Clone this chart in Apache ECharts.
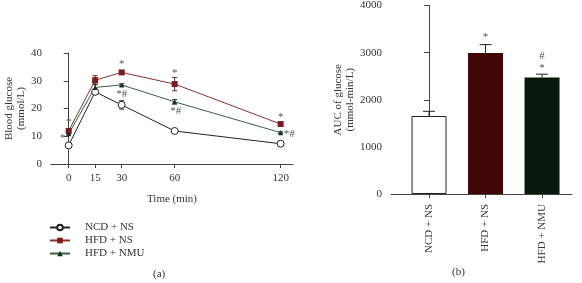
<!DOCTYPE html>
<html>
<head>
<meta charset="utf-8">
<script src="https://cdn.jsdelivr.net/npm/echarts@6/dist/echarts.min.js"></script>
<style>
html, body { margin: 0; padding: 0; background: #fff; }
#chart { width: 582px; height: 283px; }
</style>
</head>
<body>
<div id="chart"></div>
<script>
// panel (a): blood glucose over time
var times = [0, 15, 30, 60, 120];
var ncdNs = [6.7, 26.0, 21.3, 11.9, 7.3];
var ncdNsErr = [0.3, 0.6, 1.5, 0.4, 0.4];
var hfdNs = [11.9, 30.2, 33.0, 28.8, 14.4];
var hfdNsErr = [0.5, 1.6, 0.7, 2.4, 0.5];
var hfdNmu = [10.9, 27.6, 28.5, 22.4, 11.3];
var hfdNmuErr = [0.4, 1.2, 0.4, 0.8, 0.3];
var hfdNsMarks = ['*', '', '*', '*', '*'];
var hfdNmuMarks = ['*', '', '*#', '*#', '*#'];

// panel (b): AUC
var groups = ['NCD + NS', 'HFD + NS', 'HFD + NMU'];
var auc = [1655, 2990, 2473];
var aucErr = [100, 180, 70];
var aucMarks = ['', '*', '#\n*'];

var font = "'Liberation Serif', 'DejaVu Serif', serif";
var txt = '#333';
var axisCol = '#444';
var cNcd = '#222222';
var cNs = '#7a1c1c';
var cNsLine = '#8c3030';
var cNmu = '#143020';
var cNmuLine = '#3c5c4a';
var barCols = ['#ffffff', '#410707', '#07190d'];

function pairs(ys) {
    return times.map(function(t, i) { return [t, ys[i]]; });
}

function errSeries(name, ys, errs, color) {
    return {
        type: 'custom',
        name: name + ' err',
        xAxisIndex: 0,
        yAxisIndex: 0,
        z: 1,
        data: times.map(function(t, i) { return [t, ys[i] - errs[i], ys[i] + errs[i]]; }),
        renderItem: function(params, api) {
            var lo = api.coord([api.value(0), api.value(1)]);
            var hi = api.coord([api.value(0), api.value(2)]);
            var st = { stroke: color, lineWidth: 1 };
            return {
                type: 'group',
                children: [
                    { type: 'line', shape: { x1: lo[0], y1: lo[1], x2: hi[0], y2: hi[1] }, style: st },
                    { type: 'line', shape: { x1: lo[0] - 2.5, y1: lo[1], x2: lo[0] + 2.5, y2: lo[1] }, style: st },
                    { type: 'line', shape: { x1: hi[0] - 2.5, y1: hi[1], x2: hi[0] + 2.5, y2: hi[1] }, style: st }
                ]
            };
        }
    };
}

function markSeries(name, ys, marks, offsets, xi, yi) {
    return {
        type: 'custom',
        name: name,
        xAxisIndex: xi,
        yAxisIndex: yi,
        z: 5,
        silent: true,
        data: ys.map(function(v, i) { return [xi === 0 ? times[i] : i, v, i]; }),
        renderItem: function(params, api) {
            var i = api.value(2);
            var p = api.coord([api.value(0), api.value(1)]);
            var o = offsets[i];
            return {
                type: 'text',
                style: {
                    text: marks[i],
                    x: p[0] + o[0],
                    y: p[1] + o[1],
                    fill: '#555',
                    font: '11px ' + font,
                    align: o[2] || 'center',
                    verticalAlign: 'middle',
                    lineHeight: 12
                }
            };
        }
    };
}

var myChart = echarts.init(document.getElementById('chart'));
var option = {
    animation: false,
    textStyle: { fontFamily: font },
    title: [
        { text: '(a)', left: 148, top: 264, textStyle: { fontFamily: font, fontSize: 11, fontWeight: 'normal', color: txt } },
        { text: '(b)', left: 447, top: 262, textStyle: { fontFamily: font, fontSize: 11, fontWeight: 'normal', color: txt } }
    ],
    legend: {
        data: ['NCD + NS', 'HFD + NS', 'HFD + NMU'],
        orient: 'vertical',
        left: 49,
        top: 222,
        padding: 0,
        itemWidth: 20,
        itemHeight: 7,
        itemGap: 2,
        textStyle: { fontFamily: font, fontSize: 11, color: txt, padding: [0, 0, 0, 10] }
    },
    grid: [
        { left: 51, right: 289, top: 53, bottom: 119 },
        { left: 391, right: 10, top: 5, bottom: 89 }
    ],
    xAxis: [{
        gridIndex: 0,
        type: 'value',
        min: -10,
        max: 127,
        name: 'Time (min)',
        nameLocation: 'middle',
        nameGap: 30,
        nameTextStyle: { fontFamily: font, fontSize: 11, color: txt },
        splitLine: { show: false },
        axisLine: { lineStyle: { color: axisCol } },
        axisTick: { customValues: times, length: 4, lineStyle: { color: axisCol } },
        axisLabel: { customValues: times, margin: 9, fontFamily: font, fontSize: 11, color: txt }
    }, {
        gridIndex: 1,
        type: 'value',
        min: -0.673,
        max: 2.53,
        splitLine: { show: false },
        axisLine: { lineStyle: { color: axisCol } },
        axisTick: { customValues: [0, 1, 2], length: 4, lineStyle: { color: axisCol } },
        axisLabel: {
            customValues: [0, 1, 2],
            rotate: 90,
            margin: 10,
            fontFamily: font,
            fontSize: 11,
            color: txt,
            formatter: function(v) { return groups[Math.round(v)]; }
        }
    }],
    yAxis: [{
        gridIndex: 0,
        type: 'value',
        min: 0,
        max: 40,
        interval: 10,
        name: 'Blood glucose\n(mmol/L)',
        nameLocation: 'middle',
        nameRotate: 90,
        nameGap: 24,
        nameTextStyle: { fontFamily: font, fontSize: 11, color: txt, lineHeight: 12 },
        splitLine: { show: false },
        axisLine: { show: true, lineStyle: { color: axisCol } },
        axisTick: { show: true, length: 5, lineStyle: { color: axisCol } },
        axisLabel: { margin: 9, fontFamily: font, fontSize: 11, color: txt }
    }, {
        gridIndex: 1,
        type: 'value',
        min: 0,
        max: 4000,
        interval: 1000,
        name: 'AUC of glucose\n(mmol-min/L)',
        nameLocation: 'middle',
        nameRotate: 90,
        nameGap: 34,
        nameTextStyle: { fontFamily: font, fontSize: 11, color: txt, lineHeight: 12 },
        splitLine: { show: false },
        axisLine: { show: true, lineStyle: { color: axisCol } },
        axisTick: { show: true, length: 5, lineStyle: { color: axisCol } },
        axisLabel: {
            margin: 9, fontFamily: font, fontSize: 11, color: txt,
            formatter: function(v) { return String(v); }
        }
    }],
    series: [
        {
            name: 'NCD + NS', type: 'line', xAxisIndex: 0, yAxisIndex: 0, z: 3,
            data: pairs(ncdNs),
            symbol: 'circle', symbolSize: 7,
            itemStyle: { color: '#fff', borderColor: cNcd, borderWidth: 1 },
            lineStyle: { color: cNcd, width: 1 }
        },
        {
            name: 'HFD + NS', type: 'line', xAxisIndex: 0, yAxisIndex: 0, z: 3,
            data: pairs(hfdNs),
            symbol: 'rect', symbolSize: 6,
            itemStyle: { color: cNs },
            lineStyle: { color: cNsLine, width: 1 }
        },
        {
            name: 'HFD + NMU', type: 'line', xAxisIndex: 0, yAxisIndex: 0, z: 3,
            data: pairs(hfdNmu),
            symbol: 'triangle', symbolSize: 5,
            itemStyle: { color: cNmu },
            lineStyle: { color: cNmuLine, width: 1 }
        },
        errSeries('NCD + NS', ncdNs, ncdNsErr, cNcd),
        errSeries('HFD + NS', hfdNs, hfdNsErr, cNs),
        errSeries('HFD + NMU', hfdNmu, hfdNmuErr, cNmu),
        markSeries('ns marks', hfdNs, hfdNsMarks, [[0, -9], [0, 0], [0, -8], [0, -11], [0, -7]], 0, 0),
        markSeries('nmu marks', hfdNmu, hfdNmuMarks, [[-6, 4], [0, 0], [0, 9], [1, 9], [3, 1, 'left']], 0, 0),
        {
            type: 'bar',
            name: 'AUC',
            xAxisIndex: 1,
            yAxisIndex: 1,
            barWidth: 35,
            data: auc.map(function(v, i) {
                return {
                    value: [i, v],
                    itemStyle: { color: barCols[i], borderColor: '#222', borderWidth: i === 0 ? 1 : 0 }
                };
            })
        },
        {
            type: 'custom',
            name: 'AUC err',
            xAxisIndex: 1,
            yAxisIndex: 1,
            z: 1,
            data: auc.map(function(v, i) { return [i, v, v + aucErr[i]]; }),
            renderItem: function(params, api) {
                var lo = api.coord([api.value(0), api.value(1)]);
                var hi = api.coord([api.value(0), api.value(2)]);
                var st = { stroke: '#222', lineWidth: 1 };
                return {
                    type: 'group',
                    children: [
                        { type: 'line', shape: { x1: lo[0], y1: lo[1], x2: hi[0], y2: hi[1] }, style: st },
                        { type: 'line', shape: { x1: hi[0] - 6, y1: hi[1], x2: hi[0] + 6, y2: hi[1] }, style: st }
                    ]
                };
            }
        },
        markSeries('auc marks', auc.map(function(v, i) { return v + aucErr[i]; }), aucMarks, [[0, 0], [0, -8], [0, -12]], 1, 1)
    ]
};
myChart.setOption(option);
</script>
</body>
</html>
